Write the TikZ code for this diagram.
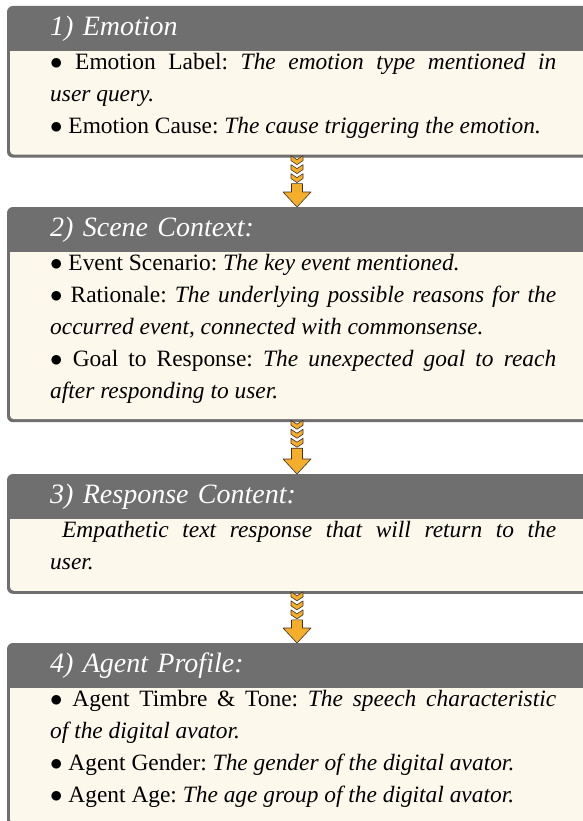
\documentclass[tikz,border=0pt]{standalone}
\usepackage{fontspec}
\setmainfont{Liberation Serif}
\usetikzlibrary{backgrounds}
\definecolor{myGray}{HTML}{6F6F6F}
\definecolor{myCream}{HTML}{FDF8EC}
\definecolor{myOrange}{HTML}{F5AE2C}
\definecolor{myDark}{HTML}{3B3328}

% gray frame + cream body behind a header/body pair
\newcommand{\panelback}[2]{%
  \begin{scope}[on background layer]
    \fill[myGray, rounded corners=6pt] (#1.north west) rectangle ([shift={(3pt,-3pt)}]#2.south east);
    \fill[myCream, rounded corners=4pt] (#2.north west) rectangle (#2.south east);
    \fill[myCream] (#2.north west) rectangle ([yshift=8pt]#2.east);
  \end{scope}}

% chevrons + arrow from one body to the next header
\newcommand{\flowarrow}[2]{%
  \coordinate (s) at ([xshift=287pt]#1.south west);
  \coordinate (t) at ([xshift=290pt]#2.north west);
  \foreach \k in {0,1,2}
    \filldraw[A] (s) ++(-6,1+9*\k) -- ++(6,4) -- ++(6,-4) -- ++(0,5) -- ++(-6,4) -- ++(-6,-4) -- cycle;
  \filldraw[A] ([shift={(-5.5pt,-29pt)}]s) -- ([shift={(5.5pt,-29pt)}]s) -- ([shift={(5.5pt,15pt)}]t)
    -- ([shift={(14pt,15pt)}]t) -- (t) -- ([shift={(-14pt,15pt)}]t) -- ([shift={(-5.5pt,15pt)}]t) -- cycle;}

\newcommand{\bodyfont}{\fontsize{23.4}{31.8}\selectfont\setlength{\parindent}{0pt}\hyphenpenalty=10000\relax}
\newcommand{\lastdepth}{\rule[-19pt]{0pt}{1pt}}

\begin{document}
\frenchspacing
\begin{tikzpicture}[x=1pt, y=-1pt]

  \tikzstyle{H}=[anchor=north west, text width=506pt, inner xsep=43pt, inner ysep=0pt, minimum height=45pt, text=white, font=\fontsize{28}{33}\selectfont\itshape]
  \tikzstyle{B}=[anchor=north west, text width=506pt, align=justify, inner xsep=40pt, inner ysep=2pt, font=\bodyfont]
  \tikzstyle{A}=[fill=myOrange, draw=myDark, line width=0.6pt, line join=round]

  \useasboundingbox (0,0) rectangle (582,821);

  \node[H] at (7,6) (emotion) {1) Emotion};
  \node[B] at ([xshift=3pt]emotion.south west) (emotionB) {$\bullet$ Emotion Label: \textit{The emotion type mentioned in\linebreak user query.}\par
    $\bullet$ Emotion Cause: \textit{The cause triggering the emotion.}\lastdepth};

  \node[H] at (7,207) (scene) {2) Scene Context:};
  \node[B] at ([xshift=3pt]scene.south west) (sceneB) {$\bullet$ Event Scenario: \textit{The key event mentioned.}\par
    $\bullet$ Rationale: \textit{The underlying possible reasons for the\linebreak occurred event, connected with commonsense.}\par
    $\bullet$ Goal to Response: \textit{The unexpected goal to reach\linebreak after responding to user.}\lastdepth};

  \node[H] at (7,474) (response) {3) Response Content:};
  \node[B] at ([xshift=3pt]response.south west) (responseB) {\hspace*{12pt}\textit{Empathetic text response that will return to the\linebreak user.}\lastdepth};

  \node[H] at (7,643) (agent) {4) Agent Profile:};
  \node[B] at ([xshift=3pt]agent.south west) (agentB) {$\bullet$ Agent Timbre \& Tone: \textit{The speech characteristic\linebreak of the digital avator.}\par
    $\bullet$ Agent Gender: \textit{The gender of the digital avator.}\par
    $\bullet$ Agent Age: \textit{The age group of the digital avator.}\lastdepth};

  \panelback{emotion}{emotionB}
  \panelback{scene}{sceneB}
  \panelback{response}{responseB}
  \panelback{agent}{agentB}

  \flowarrow{emotionB}{scene}
  \flowarrow{sceneB}{response}
  \flowarrow{responseB}{agent}

\end{tikzpicture}
\end{document}
